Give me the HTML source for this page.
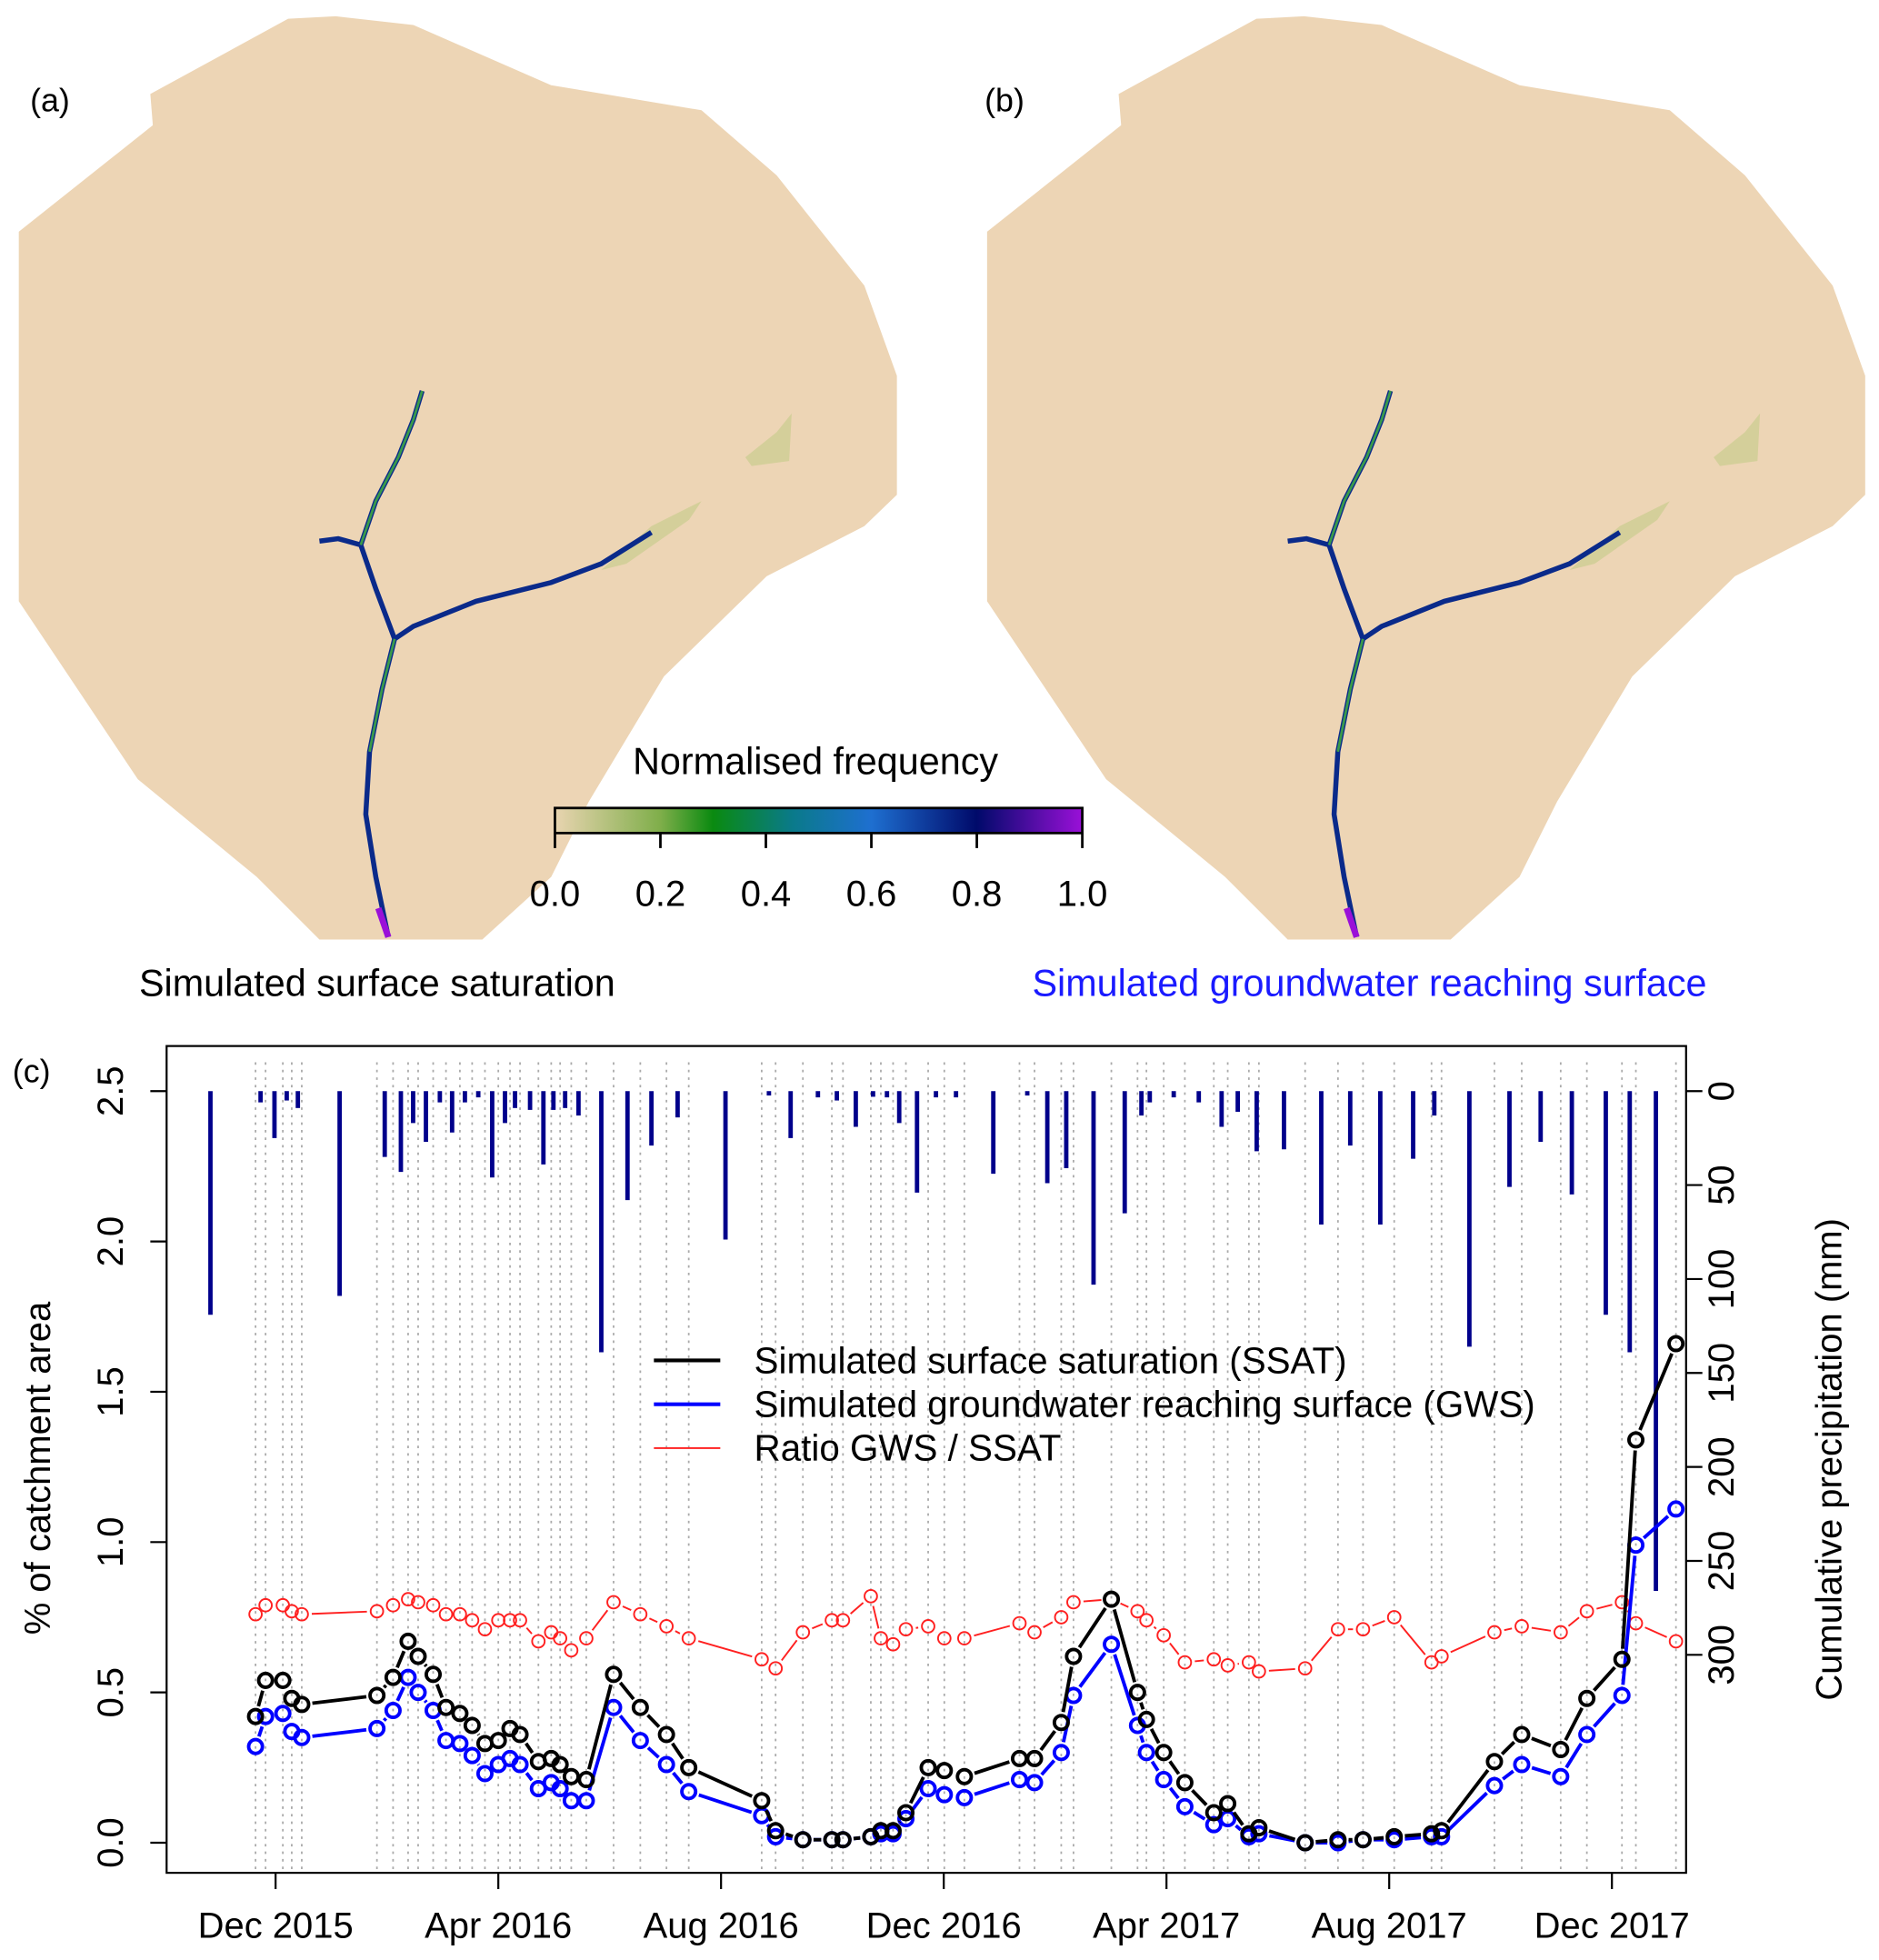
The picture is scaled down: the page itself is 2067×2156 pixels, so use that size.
<!DOCTYPE html>
<html><head><meta charset="utf-8"><style>
html,body{margin:0;padding:0;background:#fff;}
svg{display:block;font-family:"Liberation Sans",Arial,sans-serif;}
</style></head><body>
<svg id="fig" width="2067" height="2156" viewBox="0 0 1500 1564.6" xmlns="http://www.w3.org/2000/svg">
<defs>
<linearGradient id="cb" x1="0" x2="1" y1="0" y2="0">
<stop offset="0" stop-color="#e8d4b0"/><stop offset="0.2" stop-color="#7fae4a"/><stop offset="0.3" stop-color="#0a8a10"/><stop offset="0.45" stop-color="#0a7a8a"/><stop offset="0.6" stop-color="#1e6fd0"/><stop offset="0.8" stop-color="#000a6a"/><stop offset="1" stop-color="#9a10d8"/>
</linearGradient>
<g id="catch">
<polygon fill="#edd5b5" points="268,13 330,20 440,68 560,88 620,140 690,228 716,300 716,395 690,420 612,460 530,540 470,640 440,700 385,750 255,750 205,700 110,622 15,480 15,185 122,100 120,75 230,15"/>
<polygon fill="#d4cf9a" points="480,455 520,420 560,400 550,415 500,450"/>
<polygon fill="#d4cf9a" points="595,365 620,345 632,330 630,368 600,372"/>
<path d="M337,312 L330,335 L318,365 L300,400 L288,435 L270,430 L255,432 M288,435 L300,470 L315,510 L330,500 L380,480 L440,465 L480,450 L520,425 M315,510 L305,550 L295,600 L292,650 L300,700 L310,748" fill="none" stroke="#0a2a8a" stroke-width="4"/>
<path d="M337,312 L330,335 L318,365 L300,400 L288,435 M315,510 L305,550 L295,600" fill="none" stroke="#3a9a4a" stroke-width="2"/>
<path d="M302,725 L310,748" stroke="#9a10d8" stroke-width="5"/>
</g>
</defs>
<g><use href="#catch"/></g>
<g transform="translate(773,0)"><use href="#catch"/></g>
<text x="24" y="89" font-size="26">(a)</text>
<text x="786" y="89" font-size="26">(b)</text>
<text x="10" y="864" font-size="26">(c)</text>
<text x="651" y="618" font-size="30" text-anchor="middle">Normalised frequency</text>
<rect x="443" y="645" width="421" height="20" fill="url(#cb)" stroke="#000" stroke-width="2"/>
<g id="cbticks"></g>
<text x="111" y="795" font-size="30">Simulated surface saturation</text>
<text x="824" y="795" font-size="30" fill="#1a1aff">Simulated groundwater reaching surface</text>
<g id="chart"></g>
</svg>
<script>
const NS="http://www.w3.org/2000/svg";
const cbTicks=["0.0","0.2","0.4","0.6","0.8","1.0"];
const sampleMonths=[-0.36,-0.18,0.13,0.29,0.47,1.82,2.11,2.38,2.56,2.83,3.06,3.31,3.53,3.76,4.00,4.21,4.39,4.72,4.95,5.11,5.31,5.58,6.07,6.55,7.02,7.42,8.73,8.98,9.47,9.99,10.19,10.69,10.87,11.09,11.32,11.72,12.01,12.37,13.36,13.63,14.11,14.33,15.01,15.48,15.64,15.95,16.33,16.85,17.10,17.48,17.66,18.49,19.08,19.53,20.09,20.76,20.94,21.89,22.38,23.08,23.55,24.18,24.43,25.15];
const ssat=[0.42,0.54,0.54,0.48,0.46,0.49,0.55,0.67,0.62,0.56,0.45,0.43,0.39,0.33,0.34,0.38,0.36,0.27,0.28,0.26,0.22,0.21,0.56,0.45,0.36,0.25,0.14,0.04,0.01,0.01,0.01,0.02,0.04,0.04,0.10,0.25,0.24,0.22,0.28,0.28,0.40,0.62,0.81,0.50,0.41,0.30,0.20,0.10,0.13,0.03,0.05,0.00,0.01,0.01,0.02,0.03,0.04,0.27,0.36,0.31,0.48,0.61,1.34,1.66];
const gws=[0.32,0.42,0.43,0.37,0.35,0.38,0.44,0.55,0.50,0.44,0.34,0.33,0.29,0.23,0.26,0.28,0.26,0.18,0.20,0.18,0.14,0.14,0.45,0.34,0.26,0.17,0.09,0.02,0.01,0.01,0.01,0.02,0.03,0.03,0.08,0.18,0.16,0.15,0.21,0.20,0.30,0.49,0.66,0.39,0.30,0.21,0.12,0.06,0.08,0.02,0.03,0.00,0.00,0.01,0.01,0.02,0.02,0.19,0.26,0.22,0.36,0.49,0.99,1.11];
const ratio=[0.76,0.79,0.79,0.77,0.76,0.77,0.79,0.81,0.80,0.79,0.76,0.76,0.74,0.71,0.74,0.74,0.74,0.67,0.70,0.68,0.64,0.68,0.80,0.76,0.72,0.68,0.61,0.58,0.70,0.74,0.74,0.82,0.68,0.66,0.71,0.72,0.68,0.68,0.73,0.70,0.75,0.80,0.81,0.77,0.74,0.69,0.60,0.61,0.59,0.60,0.57,0.58,0.71,0.71,0.75,0.60,0.62,0.70,0.72,0.70,0.77,0.80,0.73,0.67];
const precipMonths=[-1.17,-0.27,-0.02,0.20,0.40,1.15,1.96,2.25,2.47,2.70,2.95,3.17,3.40,3.64,3.89,4.12,4.30,4.57,4.81,4.99,5.20,5.44,5.85,6.32,6.75,7.22,8.08,8.86,9.25,9.74,10.08,10.42,10.73,10.98,11.20,11.52,11.86,12.22,12.89,13.50,13.86,14.20,14.69,15.25,15.55,15.70,16.13,16.58,16.99,17.28,17.62,18.11,18.78,19.30,19.84,20.43,20.81,21.44,22.16,22.72,23.28,23.89,24.32,24.79];
const precip=[119,6,25,5,9,109,35,43,17,27,6,22,6,2,46,17,9,10,39,10,9,13,139,58,29,14,79,1,25,2,5,19,3,2,17,54,2,2,44,1,49,41,103,65,13,6,2,6,19,11,32,31,71,29,71,36,13,136,51,27,55,119,139,266];
const xTickLabels=["Dec 2015","Apr 2016","Aug 2016","Dec 2016","Apr 2017","Aug 2017","Dec 2017"];
const xTickMonths=[0,4,8,12,16,20,24];
const yTicks=["0.0","0.5","1.0","1.5","2.0","2.5"];
const yTickVals=[0,0.5,1,1.5,2,2.5];
const rTicks=["0","50","100","150","200","250","300"];
const rTickVals=[0,50,100,150,200,250,300];

const X=m=>220+m*44.45, Y=v=>1471-v*240, YP=p=>871+p*1.5;
function mk(t,a,p){const e=document.createElementNS(NS,t);for(const k in a)e.setAttribute(k,a[k]);(p||chart).appendChild(e);return e;}
const chart=document.getElementById('chart');
const cbg=document.getElementById('cbticks');
cbTicks.forEach((t,i)=>{const x=443+i*421/5;
 const l=mk('line',{x1:x,x2:x,y1:665,y2:677,stroke:'#000','stroke-width':2},cbg);
 
 
 const tx=mk('text',{x:x,y:723,'font-size':29,'text-anchor':'middle'},cbg);tx.textContent=t;
 
 });
sampleMonths.forEach(m=>{const l=mk('line',{x1:X(m),x2:X(m),y1:848,y2:1495,stroke:'#aaa','stroke-width':1.3,'stroke-dasharray':'2,4'});
 
 });
precip.forEach((p,i)=>{const l=mk('line',{x1:X(precipMonths[i]),x2:X(precipMonths[i]),y1:YP(0),y2:YP(p)+ (p<3?2:0),stroke:'#00008b','stroke-width':3.5});
 
 });
const fr=mk('rect',{x:133,y:835,width:1213,height:660,fill:'none',stroke:'#000','stroke-width':1.6});


xTickMonths.forEach((m,i)=>{const x=X(m);
 mk('line',{x1:x,x2:x,y1:1495,y2:1508,stroke:'#000','stroke-width':1.6});
 const t=mk('text',{x:x,y:1547,'font-size':29,'text-anchor':'middle'});t.textContent=xTickLabels[i];
 
 });
yTickVals.forEach((v,i)=>{const y=Y(v);
 mk('line',{x1:120,x2:133,y1:y,y2:y,stroke:'#000','stroke-width':1.6});
 const t=mk('text',{x:0,y:0,'font-size':29,'text-anchor':'middle',transform:`translate(98,${y}) rotate(-90)`});t.textContent=yTicks[i];
 
 });
rTickVals.forEach((v,i)=>{const y=YP(v);
 mk('line',{x1:1346,x2:1359,y1:y,y2:y,stroke:'#000','stroke-width':1.6});
 const t=mk('text',{x:0,y:0,'font-size':29,'text-anchor':'middle',transform:`translate(1384,${y}) rotate(-90)`});t.textContent=rTicks[i];
 
 });
let t=mk('text',{x:0,y:0,'font-size':29,'text-anchor':'middle',transform:'translate(40,1172) rotate(-90)'});t.textContent='% of catchment area';

t=mk('text',{x:0,y:0,'font-size':29,'text-anchor':'middle',transform:'translate(1470,1165) rotate(-90)'});t.textContent='Cumulative precipitation (mm)';

function series(vals,col,lw,r,name){
 const g=mk('g',{});
 
 
 const pts=vals.map((v,i)=>[X(sampleMonths[i]),Y(v)]);
 for(let i=0;i<pts.length-1;i++){const [x1,y1]=pts[i],[x2,y2]=pts[i+1];const dx=x2-x1,dy=y2-y1,d=Math.hypot(dx,dy),gap=r+3;
  if(d>2*gap){mk('line',{x1:x1+dx/d*gap,y1:y1+dy/d*gap,x2:x2-dx/d*gap,y2:y2-dy/d*gap,stroke:col,'stroke-width':lw},g);}}
 pts.forEach(([x,y])=>{const c=mk('circle',{cx:x,cy:y,r:r,fill:'none',stroke:col,'stroke-width':lw},g);
  
  });
}
series(ratio,'#ff2020',1.4,5,'ratio-series');
series(gws,'#0000ff',2.8,5.5,'gws-series');
series(ssat,'#000',2.8,5.5,'ssat-series');
const leg=[['Simulated surface saturation (SSAT)','#000',3],['Simulated groundwater reaching surface (GWS)','#0000ff',3],['Ratio GWS / SSAT','#ff2020',1.4]];
leg.forEach((e,i)=>{const y=1086+i*35;
 mk('line',{x1:522,x2:575,y1:y,y2:y,stroke:e[1],'stroke-width':e[2]});
 const tx=mk('text',{x:602,y:y+10,'font-size':29.3});tx.textContent=e[0];
 
 });
</script>
</body></html>
